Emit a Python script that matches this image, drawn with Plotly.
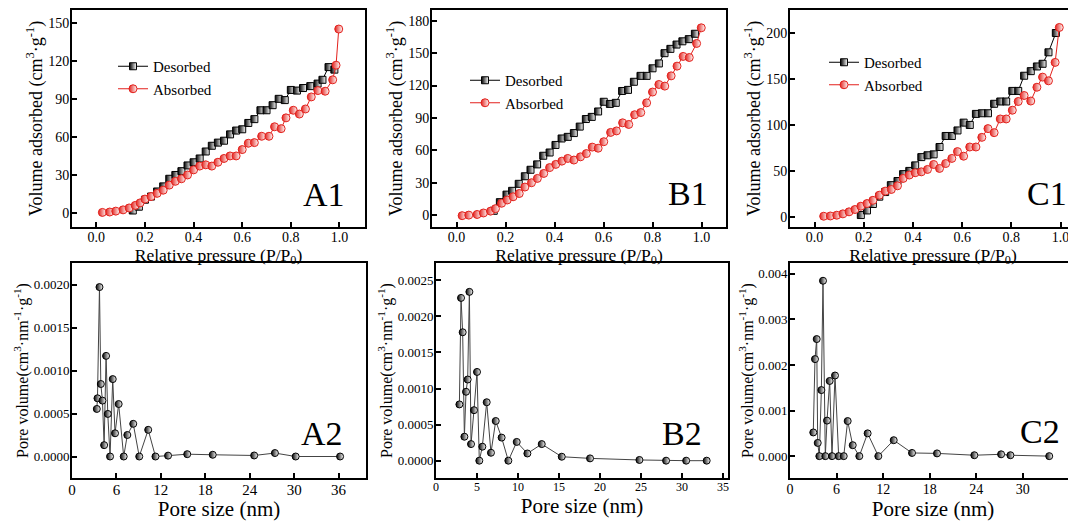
import plotly.graph_objects as go

# page body has an 8px default margin; the figure is sized so that it fills the 1076x521 window
OFF = 8
W, H = 1076 - OFF, 521 - OFF
FONT = "Liberation Serif, Times New Roman, serif"

# ---------------- data ----------------
A1_des_x = [0.150, 0.175, 0.200, 0.225, 0.250, 0.275, 0.300, 0.325, 0.350, 0.375, 0.400, 0.425,
            0.450, 0.475, 0.500, 0.525, 0.550, 0.575, 0.600, 0.625, 0.650, 0.675, 0.700, 0.725,
            0.750, 0.775, 0.800, 0.825, 0.850, 0.880, 0.910, 0.930, 0.955, 0.979]
A1_des_y = [2, 5, 10.5, 13, 17, 21, 27, 30, 33, 37.5, 40, 43, 48.5, 53, 55.5, 57, 62, 65, 66, 71,
            74, 81, 81, 85, 90, 89, 97, 96.5, 98.5, 100, 102, 105, 115, 113]
A1_abs_x = [0.025, 0.055, 0.080, 0.110, 0.135, 0.160, 0.180, 0.200, 0.225, 0.250, 0.275, 0.300,
            0.325, 0.350, 0.375, 0.400, 0.425, 0.450, 0.475, 0.500, 0.525, 0.550, 0.575, 0.600,
            0.625, 0.650, 0.680, 0.710, 0.733, 0.760, 0.780, 0.810, 0.835, 0.860, 0.884, 0.911,
            0.941, 0.972, 0.986, 0.997]
A1_abs_y = [0.5, 0.8, 1.5, 2.5, 4, 6, 8, 11, 13, 15.5, 18, 22, 25, 27, 30, 34, 37, 38, 37, 40, 43,
            45, 45, 50, 55, 55.5, 60.5, 60.5, 68, 66.5, 75, 81, 78, 82, 91.5, 96.5, 96, 105, 116.5, 145]

B1_des_x = [0.152, 0.177, 0.204, 0.227, 0.254, 0.279, 0.302, 0.329, 0.354, 0.380, 0.404, 0.429,
            0.454, 0.479, 0.503, 0.528, 0.552, 0.578, 0.601, 0.626, 0.650, 0.676, 0.700, 0.724,
            0.751, 0.776, 0.800, 0.826, 0.849, 0.873, 0.898, 0.922, 0.948, 0.973]
B1_des_y = [4, 12, 19, 22.5, 29, 36, 42, 47, 55, 58, 65, 71, 72.5, 76, 82, 89, 91, 96, 105, 103,
            104, 115, 116, 123.5, 129, 129, 136, 140.5, 150, 154, 158, 161, 163, 168]
B1_abs_x = [0.023, 0.050, 0.084, 0.110, 0.139, 0.159, 0.184, 0.207, 0.231, 0.256, 0.279, 0.306,
            0.330, 0.356, 0.380, 0.405, 0.430, 0.454, 0.479, 0.506, 0.530, 0.554, 0.578, 0.601,
            0.629, 0.653, 0.678, 0.703, 0.727, 0.752, 0.776, 0.800, 0.826, 0.850, 0.876, 0.900,
            0.925, 0.950, 0.980, 0.999]
B1_abs_y = [-0.5, 0, 0.6, 2, 3.7, 6, 11, 14, 17, 20, 26, 30, 34, 38.6, 44, 47, 50, 52.5, 51, 54,
            57, 63, 62, 68, 76.6, 78, 85.5, 84, 93, 95, 104, 114, 121, 119.5, 129, 138, 147, 146,
            159, 173.5]

C1_des_x = [0.188, 0.213, 0.237, 0.263, 0.287, 0.310, 0.337, 0.360, 0.385, 0.409, 0.434, 0.459,
            0.484, 0.508, 0.533, 0.558, 0.581, 0.606, 0.631, 0.656, 0.680, 0.705, 0.730, 0.755,
            0.779, 0.804, 0.828, 0.852, 0.879, 0.904, 0.927, 0.951, 0.981]
C1_des_y = [2, 7, 14, 22, 27, 34.5, 39, 46.5, 50, 56, 65, 67, 68, 76, 88, 88, 94, 102.5, 100, 112,
            112.7, 112.7, 123, 125.5, 125.5, 137, 137, 153.5, 158.5, 163.6, 166.5, 179, 200]
C1_abs_x = [0.037, 0.064, 0.090, 0.115, 0.140, 0.164, 0.188, 0.213, 0.237, 0.263, 0.287, 0.312,
            0.337, 0.360, 0.385, 0.409, 0.434, 0.459, 0.484, 0.508, 0.533, 0.558, 0.581, 0.606,
            0.631, 0.656, 0.680, 0.705, 0.730, 0.755, 0.779, 0.804, 0.828, 0.852, 0.879, 0.904,
            0.927, 0.951, 0.978, 0.995]
C1_abs_y = [0.7, 1, 1.8, 3.3, 5.5, 8, 11.6, 14.5, 18, 23.6, 28, 29.8, 33.8, 41.8, 45.5, 48, 49,
            51.6, 57, 52.7, 58, 63.6, 71, 66, 76, 76, 86.5, 96, 91.6, 106.5, 106.5, 116, 125.5,
            132, 126, 141, 152, 148, 168, 206]

A2_x = [3.35, 3.44, 3.71, 3.89, 4.11, 4.34, 4.60, 4.83, 5.14, 5.50, 5.81, 6.30, 6.98, 7.47, 8.27,
        9.08, 10.29, 11.27, 12.97, 15.56, 19.0, 24.6, 27.4, 30.2, 36.2]
A2_y = [0.000553, 0.000677, 0.00197, 0.000843, 0.00065, 0.000132, 0.00117, 0.000495, 0.0, 0.0009,
        0.00027, 0.00061, 0.0, 0.00025, 0.00038, 0.0, 0.00031, 0.0, 0.00001, 0.000027, 0.00002,
        0.000012, 0.00004, 0.0, 0.0]

B2_x = [2.85, 3.05, 3.25, 3.46, 3.66, 3.86, 4.07, 4.27, 4.63, 5.00, 5.28, 5.65, 6.18, 6.70, 7.28,
        8.00, 8.82, 9.84, 11.14, 12.89, 15.33, 18.78, 24.8, 28.05, 30.5, 33.0]
B2_y = [0.00078, 0.002256, 0.00178, 0.000332, 0.000955, 0.001125, 0.00234, 0.00023, 0.0007,
        0.00123, 0.0, 0.000194, 0.00081, 0.00011, 0.00055, 0.00032, 0.0, 0.00026, 0.0001, 0.00023,
        0.000055, 0.000032, 0.00001, 0.0, 0.0, 0.0]

C2_x = [3.00, 3.22, 3.44, 3.57, 3.78, 4.04, 4.25, 4.55, 4.77, 5.11, 5.41, 5.80, 6.27, 6.92, 7.43,
        8.08, 8.93, 10.0, 11.38, 13.36, 15.72, 18.94, 23.75, 27.2, 28.4, 33.4]
C2_y = [0.00052, 0.00213, 0.00257, 0.00029, 0.0, 0.00145, 0.00385, 0.0, 0.00078, 0.00165, 0.0,
        0.00177, 0.0, 0.0, 0.00077, 0.00024, 0.0, 0.0005, 0.0, 0.00035, 0.00007, 0.00006, 0.00002,
        0.00004, 0.00002, 0.0]

SERIES_NAMES = ["Desorbed", "Absorbed"]
PANEL_LABELS = ["A1", "B1", "C1", "A2", "B2", "C2"]
TOP_YTICKS = [[0, 30, 60, 90, 120, 150], [0, 30, 60, 90, 120, 150, 180], [0, 50, 100, 150, 200]]
TOP_XTICKS = [0.0, 0.2, 0.4, 0.6, 0.8, 1.0]
BOT_XTICKS = [[0, 6, 12, 18, 24, 30, 36], [0, 5, 10, 15, 20, 25, 30, 35], [0, 6, 12, 18, 24, 30, 36]]
BOT_YTICKS = [[0, 0.0005, 0.001, 0.0015, 0.002], [0, 0.0005, 0.001, 0.0015, 0.002, 0.0025],
              [0, 0.001, 0.002, 0.003, 0.004]]

# ---------------- layout helpers (screen pixels -> paper fractions) ----------------
def fx(p):
    return (p - OFF) / W

def fy(p):
    return 1 - (p - OFF) / H

RED = "#e3211c"
fig = go.Figure()

top_data = [(A1_des_x, A1_des_y, A1_abs_x, A1_abs_y),
            (B1_des_x, B1_des_y, B1_abs_x, B1_abs_y),
            (C1_des_x, C1_des_y, C1_abs_x, C1_abs_y)]
legend_ids = ["legend", "legend2", "legend3"]

for i, (dx, dy, ax_, ay) in enumerate(top_data):
    xa = "x" if i == 0 else f"x{i+1}"
    ya = "y" if i == 0 else f"y{i+1}"
    fig.add_trace(go.Scatter(
        x=dx, y=dy, mode="lines+markers", name=SERIES_NAMES[0], xaxis=xa, yaxis=ya,
        legend=legend_ids[i],
        line=dict(color="black", width=1),
        marker=dict(symbol="square", size=7, color="black",
                    gradient=dict(type="horizontal", color="white"),
                    line=dict(color="black", width=1))))
    fig.add_trace(go.Scatter(
        x=ax_, y=ay, mode="lines+markers", name=SERIES_NAMES[1], xaxis=xa, yaxis=ya,
        legend=legend_ids[i],
        line=dict(color=RED, width=1),
        marker=dict(symbol="circle", size=8, color=RED,
                    gradient=dict(type="horizontal", color="white"),
                    line=dict(color=RED, width=1))))

bot_data = [(A2_x, A2_y), (B2_x, B2_y), (C2_x, C2_y)]
for i, (bx, by) in enumerate(bot_data):
    fig.add_trace(go.Scatter(
        x=bx, y=by, mode="lines+markers", showlegend=False,
        xaxis=f"x{i+4}", yaxis=f"y{i+4}",
        line=dict(color="#444444", width=1),
        marker=dict(symbol="circle", size=7, color="black",
                    gradient=dict(type="horizontal", color="white"),
                    line=dict(color="black", width=1))))

base = dict(showline=True, linecolor="black", linewidth=2, ticks="inside", ticklen=5,
            tickwidth=1.5, tickcolor="black", showgrid=False, zeroline=False, automargin=False,
            tickfont=dict(family=FONT, size=14, color="black"))

top_dom_y = [fy(227), fy(10)]
bot_dom_y = [fy(478), fy(263)]
top_dom_x = [[fx(72), fx(365)], [fx(432), fx(726)], [fx(790), 1.0]]
bot_dom_x = [[fx(72), fx(366)], [fx(436), fx(728)], [fx(790), 1.0]]
top_xrange = [[-0.1, 1.105], [-0.1, 1.1], [-0.1, 1.063]]
top_yrange = [[-11, 160], [-11, 190], [-11, 225]]
bot_xrange = [[0, 39.7], [0, 35.6], [0, 36.85]]
bot_yrange = [[-0.00025, 0.00225], [-0.00024, 0.00274], [-0.00048, 0.00424]]
bot_yfmt = [".4f", ".4f", ".3f"]
bot_xtick_size = [15, 12, 14]
bot_xtitle_standoff = [0, 5, 3]

ytitle_top = "Volume adsorbed (cm<sup>3</sup>·g<sup>-1</sup>)"
xtitle_top = "Relative pressure (P/P<sub>0</sub>)"
ytitle_bot = "Pore volume(cm<sup>3</sup>·nm<sup>-1</sup>·g<sup>-1</sup>)"
xtitle_bot = "Pore size (nm)"

layout = dict(width=W, height=H, margin=dict(l=0, r=0, t=0, b=0, autoexpand=False),
              paper_bgcolor="white", plot_bgcolor="white",
              font=dict(family=FONT, color="black"))

for i in range(3):
    k = "" if i == 0 else str(i + 1)
    layout[f"xaxis{k}"] = dict(base, domain=top_dom_x[i], range=top_xrange[i], anchor=f"y{k}",
                               mirror=True, tickvals=TOP_XTICKS, tickformat=".1f",
                               ticklabelstandoff=-4,
                               title=dict(text=xtitle_top, font=dict(family=FONT, size=17.5),
                                          standoff=1))
    layout[f"yaxis{k}"] = dict(base, domain=top_dom_y, range=top_yrange[i], anchor=f"x{k}",
                               mirror=(i < 2), tickvals=TOP_YTICKS[i], ticklabelstandoff=-2,
                               title=dict(text=ytitle_top, font=dict(family=FONT, size=18),
                                          standoff=1))
    j = str(i + 4)
    layout[f"xaxis{j}"] = dict(base, domain=bot_dom_x[i], range=bot_xrange[i], anchor=f"y{j}",
                               mirror=True, tickvals=BOT_XTICKS[i], ticklabelstandoff=-3,
                               tickfont=dict(family=FONT, size=bot_xtick_size[i], color="black"),
                               title=dict(text=xtitle_bot, font=dict(family=FONT, size=21),
                                          standoff=bot_xtitle_standoff[i]))
    layout[f"yaxis{j}"] = dict(base, domain=bot_dom_y, range=bot_yrange[i], anchor=f"x{j}",
                               mirror=(i < 2), tickvals=BOT_YTICKS[i], tickformat=bot_yfmt[i],
                               ticklabelstandoff=-2,
                               tickfont=dict(family=FONT, size=13, color="black"),
                               title=dict(text=ytitle_bot, font=dict(family=FONT, size=16),
                                          standoff=1))

leg_pos = [(113, 50), (465, 64), (824, 46)]
for i, lid in enumerate(legend_ids):
    layout[lid] = dict(x=fx(leg_pos[i][0]), y=fy(leg_pos[i][1]), xanchor="left", yanchor="top",
                       bgcolor="rgba(0,0,0,0)", borderwidth=0, tracegroupgap=0,
                       font=dict(family=FONT, size=15, color="black"))

label_pos = [(324, 195), (688, 193), (1047, 193), (322, 433), (682, 433), (1040, 431)]
annotations = []
for lab, (px, py) in zip(PANEL_LABELS, label_pos):
    annotations.append(dict(text=lab, x=fx(px), y=fy(py), xref="paper", yref="paper",
                            showarrow=False, xanchor="center", yanchor="middle",
                            font=dict(family=FONT, size=34, color="black")))
layout["annotations"] = annotations

fig.update_layout(**layout)
fig.write_html("out.html")
